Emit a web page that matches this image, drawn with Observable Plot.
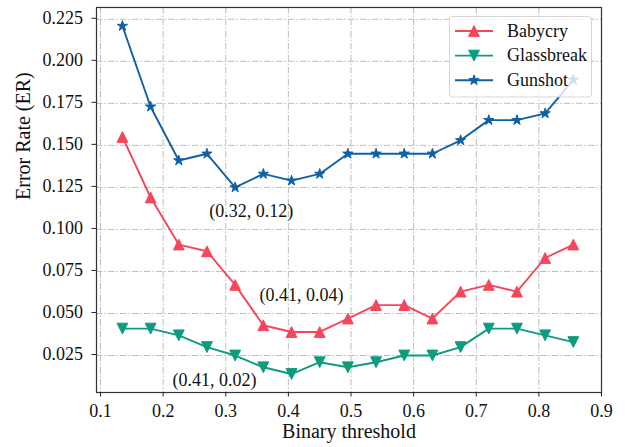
<!DOCTYPE html>
<html>
<head>
<meta charset="utf-8">
<script src="https://cdn.jsdelivr.net/npm/d3@7"></script>
<script src="https://cdn.jsdelivr.net/npm/@observablehq/plot@0.6"></script>
<style>
  html, body { margin: 0; padding: 0; background: #fff; }
  #chart svg { display: block; }
  #chart svg, #chart svg text { font-family: "Liberation Serif", "Times New Roman", Times, serif !important; }
</style>
</head>
<body>
<div id="chart"></div>
<script>
// Error rate of each sound-event class against the binary decision threshold
const thresholds = [0.135, 0.18, 0.225, 0.27, 0.315, 0.36, 0.405, 0.45, 0.495, 0.54, 0.585, 0.63, 0.675, 0.72, 0.765, 0.81, 0.855];
const babycry    = [0.155, 0.119, 0.091, 0.087, 0.067, 0.043, 0.039, 0.039, 0.047, 0.055, 0.055, 0.047, 0.063, 0.067, 0.063, 0.083, 0.091];
const glassbreak = [0.041, 0.041, 0.037, 0.030, 0.025, 0.018, 0.014, 0.021, 0.018, 0.021, 0.025, 0.025, 0.030, 0.041, 0.041, 0.037, 0.033];
const gunshot    = [0.221, 0.173, 0.141, 0.145, 0.125, 0.133, 0.129, 0.133, 0.145, 0.145, 0.145, 0.145, 0.153, 0.165, 0.165, 0.169, 0.189];

const seriesNames = ["Babycry", "Glassbreak", "Gunshot"];
const xTicks = [0.1, 0.2, 0.3, 0.4, 0.5, 0.6, 0.7, 0.8, 0.9];
const yTicks = [0.025, 0.05, 0.075, 0.1, 0.125, 0.15, 0.175, 0.2, 0.225];

// Minimum point of each class, with its label
const minima = [
  {series: "Gunshot",    threshold: 0.315, text: "(0.32, 0.12)"},
  {series: "Babycry",    threshold: 0.405, text: "(0.41, 0.04)"},
  {series: "Glassbreak", threshold: 0.405, text: "(0.41, 0.02)"}
];

const seriesValues = {Babycry: babycry, Glassbreak: glassbreak, Gunshot: gunshot};
const colors = {Babycry: "#F5475C", Glassbreak: "#0E9C7E", Gunshot: "#1060A6"};
const serif = "Liberation Serif, Times New Roman, Times, serif";

// Marker shapes (half-size r derived from the symbol area)
const half = (size) => Math.sqrt(size / Math.PI);
const triangleUp = {draw(ctx, size) { const r = half(size); ctx.moveTo(0, -r); ctx.lineTo(r, r); ctx.lineTo(-r, r); ctx.closePath(); }};
const triangleDown = {draw(ctx, size) { const r = half(size); ctx.moveTo(0, r); ctx.lineTo(r, -r); ctx.lineTo(-r, -r); ctx.closePath(); }};
const star = {draw(ctx, size) {
  const r = half(size), ri = r * 0.381966;
  for (let k = 0; k < 10; k++) {
    const a = -Math.PI / 2 + k * Math.PI / 5, rr = k % 2 ? ri : r;
    const px = rr * Math.cos(a), py = rr * Math.sin(a);
    if (k) ctx.lineTo(px, py); else ctx.moveTo(px, py);
  }
  ctx.closePath();
}};
const symbols = {Babycry: triangleUp, Glassbreak: triangleDown, Gunshot: star};

const rowsOf = (name) => thresholds.map((t, i) => ({threshold: t, value: seriesValues[name][i], series: name}));

const gridStyle = {stroke: "#bdbdbd", strokeOpacity: 1, strokeWidth: 1, strokeDasharray: "6.5,2,1.5,2"};

const seriesMarks = seriesNames.flatMap((name) => {
  const rows = rowsOf(name);
  return [
    Plot.line(rows, {x: "threshold", y: "value", stroke: colors[name], strokeWidth: 1.9}),
    Plot.dot(rows, {x: "threshold", y: "value", symbol: symbols[name], r: 5.4,
                    fill: colors[name], stroke: colors[name], strokeWidth: 1})
  ];
});

// Label offsets (pixels) from the point each label refers to
const labelOffsets = {Gunshot: [16, 24], Babycry: [10, -37], Glassbreak: [-77, 6]};
const minimaMarks = minima.map((m) => {
  const i = thresholds.indexOf(m.threshold);
  const [dx, dy] = labelOffsets[m.series];
  return Plot.text([{threshold: m.threshold, value: seriesValues[m.series][i], text: m.text}],
    {x: "threshold", y: "value", text: "text", dx, dy, fontSize: 18, fontFamily: serif, fill: "#111"});
});

const svg = Plot.plot({
  width: 625,
  height: 447,
  marginLeft: 96,
  marginRight: 24,
  marginTop: 7,
  marginBottom: 55,
  style: {fontFamily: serif, fontSize: "18px", background: "#fff", color: "#111"},
  x: {domain: [0.0936, 0.9], label: null},
  y: {domain: [0.003, 0.232], label: null},
  marks: [
    Plot.gridX(xTicks, gridStyle),
    Plot.gridY(yTicks, gridStyle),
    ...seriesMarks,
    ...minimaMarks,
    Plot.frame({stroke: "#333", strokeWidth: 1.2}),
    Plot.axisX(xTicks, {tickFormat: d3.format(".1f"), tickSize: 4.5, tickPadding: 7, fontSize: 18, fontFamily: serif, label: null, stroke: "#222"}),
    Plot.axisY(yTicks, {tickFormat: d3.format(".3f"), tickSize: 4.5, tickPadding: 9, fontSize: 18, fontFamily: serif, label: null, dy: -1, stroke: "#222"}),
    Plot.text(["Binary threshold"], {text: (d) => d, frameAnchor: "bottom", dy: 45, fontSize: 20, fontFamily: serif, fill: "#111"}),
    Plot.text(["Error Rate (ER)"], {text: (d) => d, frameAnchor: "left", rotate: -90, dx: -72.5, fontSize: 20, fontFamily: serif, fill: "#111"})
  ]
});

// Legend box in the upper right, drawn over the lines
const legend = d3.select(svg).append("g")
  .attr("font-family", serif).attr("font-size", 18).attr("text-anchor", "start");
legend.append("rect")
  .attr("x", 449.5).attr("y", 16.5).attr("width", 142).attr("height", 80.5)
  .attr("rx", 3).attr("fill", "#fff").attr("fill-opacity", 0.8)
  .attr("stroke", "#ccc").attr("stroke-opacity", 0.8);
seriesNames.forEach((name, k) => {
  const cy = 31 + k * 24.6;
  legend.append("line").attr("x1", 455).attr("x2", 493).attr("y1", cy).attr("y2", cy)
    .attr("stroke", colors[name]).attr("stroke-width", 1.9);
  const p = d3.path();
  symbols[name].draw(p, 5.4 * 5.4 * Math.PI);
  legend.append("path").attr("d", p.toString()).attr("transform", `translate(474,${cy})`)
    .attr("fill", colors[name]).attr("stroke", colors[name]).attr("stroke-width", 1);
  legend.append("text").attr("x", 507).attr("y", cy + 5.8).attr("fill", "#111").text(name);
});

document.getElementById("chart").appendChild(svg);
</script>
</body>
</html>
